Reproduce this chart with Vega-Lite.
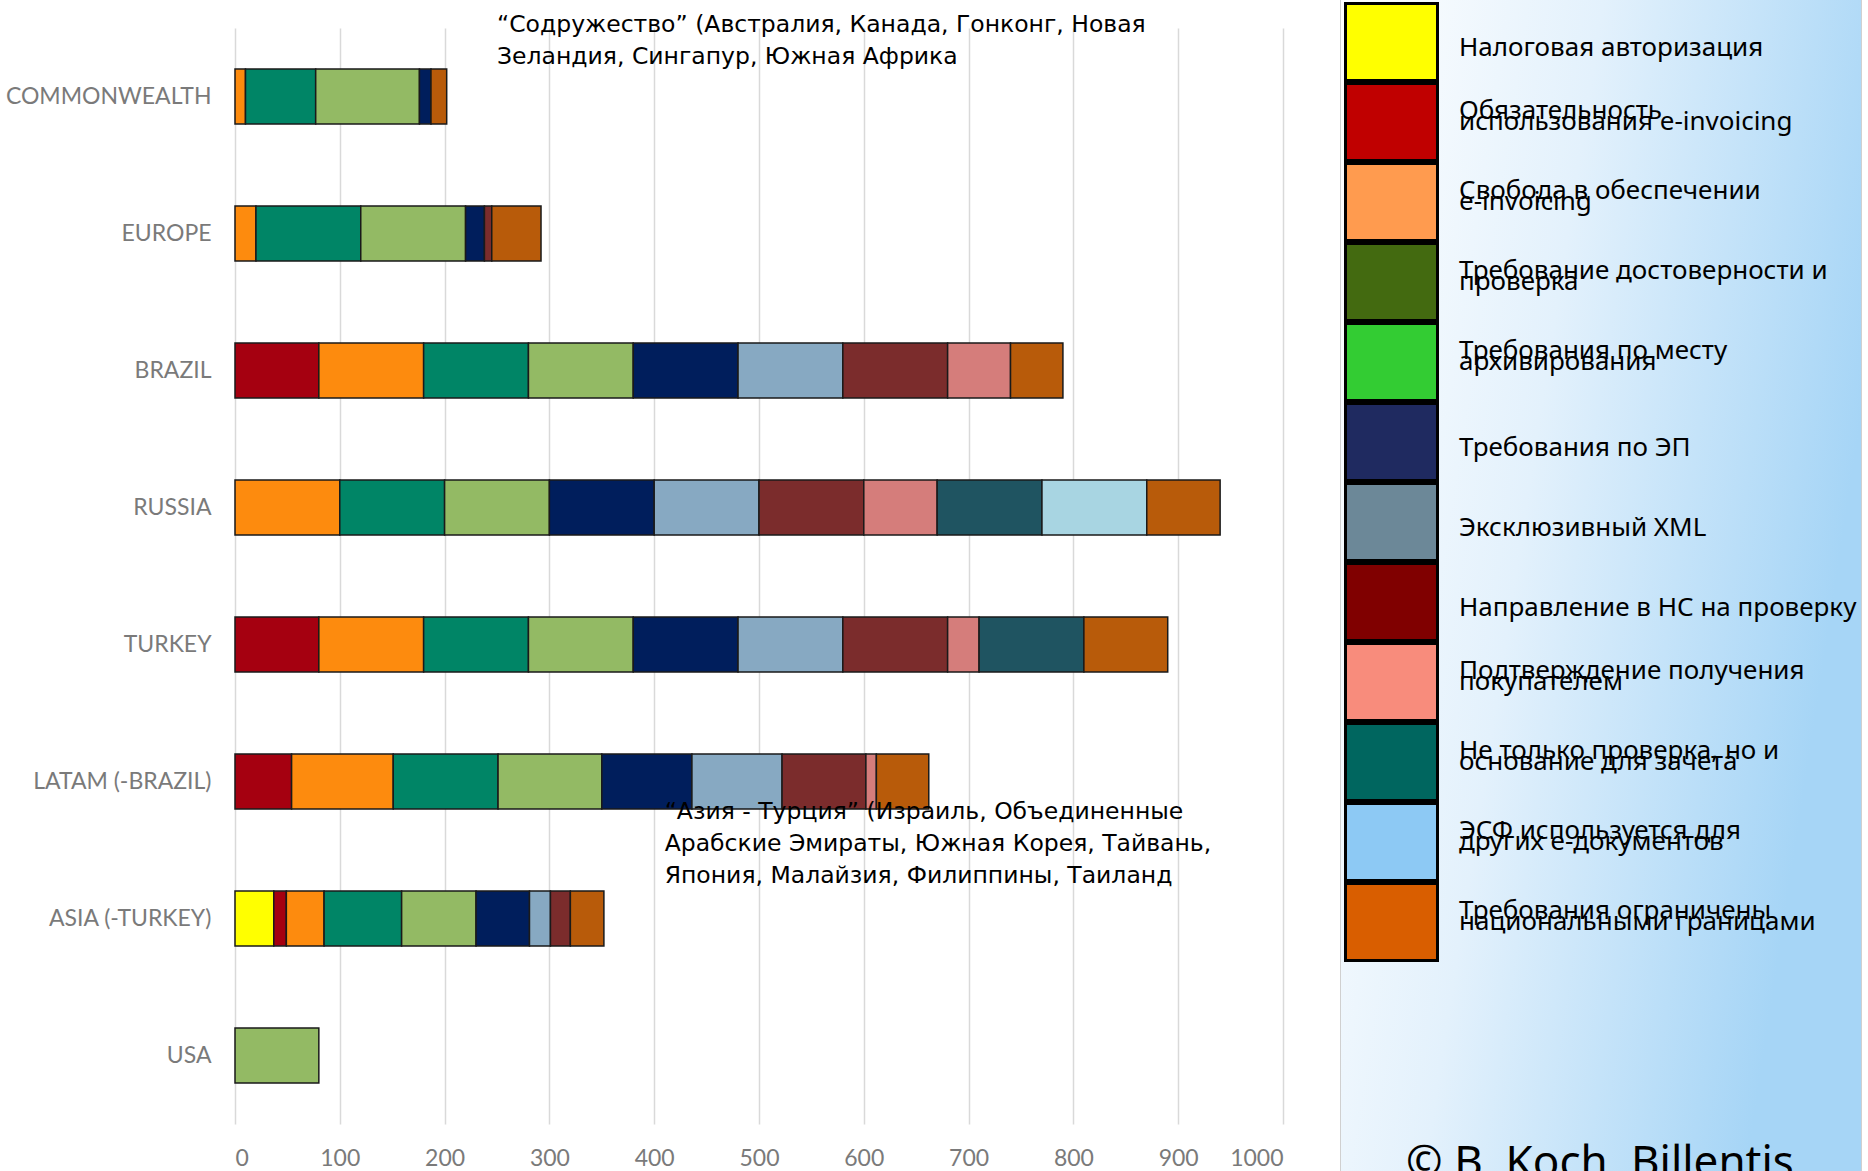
{
  "$schema": "https://vega.github.io/schema/vega-lite/v6.json",
  "width": 1048,
  "height": 1096,
  "autosize": {"type": "none"},
  "padding": {"left": 235, "top": 28, "right": 585, "bottom": 47},
  "background": "white",
  "config": {"view": {"stroke": null}},
  "datasets": {
    "cats": [
      {"k": 1, "c": "Налоговая авторизация"},
      {"k": 2, "c": "Обязательность|использования e-invoicing"},
      {"k": 3, "c": "Свобода в обеспечении|e-invoicing"},
      {"k": 4, "c": "Требование достоверности и|проверка"},
      {"k": 5, "c": "Требования по месту|архивирования"},
      {"k": 6, "c": "Требования по ЭП"},
      {"k": 7, "c": "Эксклюзивный XML"},
      {"k": 8, "c": "Направление в НС на проверку"},
      {"k": 9, "c": "Подтверждение получения|покупателем"},
      {"k": 10, "c": "Не только проверка, но и|основание для зачета"},
      {"k": 11, "c": "ЭСФ используется для|других е-документов"},
      {"k": 12, "c": "Требования ограничены|национальными границами"}
    ],
    "bars": [
      {"r": "COMMONWEALTH", "k": 3, "v": 10},
      {"r": "COMMONWEALTH", "k": 4, "v": 67},
      {"r": "COMMONWEALTH", "k": 5, "v": 99},
      {"r": "COMMONWEALTH", "k": 6, "v": 11},
      {"r": "COMMONWEALTH", "k": 12, "v": 15},
      {"r": "EUROPE", "k": 3, "v": 20},
      {"r": "EUROPE", "k": 4, "v": 100},
      {"r": "EUROPE", "k": 5, "v": 100},
      {"r": "EUROPE", "k": 6, "v": 18},
      {"r": "EUROPE", "k": 8, "v": 7},
      {"r": "EUROPE", "k": 12, "v": 47},
      {"r": "BRAZIL", "k": 2, "v": 80},
      {"r": "BRAZIL", "k": 3, "v": 100},
      {"r": "BRAZIL", "k": 4, "v": 100},
      {"r": "BRAZIL", "k": 5, "v": 100},
      {"r": "BRAZIL", "k": 6, "v": 100},
      {"r": "BRAZIL", "k": 7, "v": 100},
      {"r": "BRAZIL", "k": 8, "v": 100},
      {"r": "BRAZIL", "k": 9, "v": 60},
      {"r": "BRAZIL", "k": 12, "v": 50},
      {"r": "RUSSIA", "k": 3, "v": 100},
      {"r": "RUSSIA", "k": 4, "v": 100},
      {"r": "RUSSIA", "k": 5, "v": 100},
      {"r": "RUSSIA", "k": 6, "v": 100},
      {"r": "RUSSIA", "k": 7, "v": 100},
      {"r": "RUSSIA", "k": 8, "v": 100},
      {"r": "RUSSIA", "k": 9, "v": 70},
      {"r": "RUSSIA", "k": 10, "v": 100},
      {"r": "RUSSIA", "k": 11, "v": 100},
      {"r": "RUSSIA", "k": 12, "v": 70},
      {"r": "TURKEY", "k": 2, "v": 80},
      {"r": "TURKEY", "k": 3, "v": 100},
      {"r": "TURKEY", "k": 4, "v": 100},
      {"r": "TURKEY", "k": 5, "v": 100},
      {"r": "TURKEY", "k": 6, "v": 100},
      {"r": "TURKEY", "k": 7, "v": 100},
      {"r": "TURKEY", "k": 8, "v": 100},
      {"r": "TURKEY", "k": 9, "v": 30},
      {"r": "TURKEY", "k": 10, "v": 100},
      {"r": "TURKEY", "k": 12, "v": 80},
      {"r": "LATAM (-BRAZIL)", "k": 2, "v": 54},
      {"r": "LATAM (-BRAZIL)", "k": 3, "v": 97},
      {"r": "LATAM (-BRAZIL)", "k": 4, "v": 100},
      {"r": "LATAM (-BRAZIL)", "k": 5, "v": 99},
      {"r": "LATAM (-BRAZIL)", "k": 6, "v": 86},
      {"r": "LATAM (-BRAZIL)", "k": 7, "v": 86},
      {"r": "LATAM (-BRAZIL)", "k": 8, "v": 80},
      {"r": "LATAM (-BRAZIL)", "k": 9, "v": 10},
      {"r": "LATAM (-BRAZIL)", "k": 12, "v": 50},
      {"r": "ASIA (-TURKEY)", "k": 1, "v": 37},
      {"r": "ASIA (-TURKEY)", "k": 2, "v": 12},
      {"r": "ASIA (-TURKEY)", "k": 3, "v": 36},
      {"r": "ASIA (-TURKEY)", "k": 4, "v": 74},
      {"r": "ASIA (-TURKEY)", "k": 5, "v": 71},
      {"r": "ASIA (-TURKEY)", "k": 6, "v": 51},
      {"r": "ASIA (-TURKEY)", "k": 7, "v": 20},
      {"r": "ASIA (-TURKEY)", "k": 8, "v": 19},
      {"r": "ASIA (-TURKEY)", "k": 12, "v": 32},
      {"r": "USA", "k": 5, "v": 80}
    ]
  },
  "data": {"name": "bars"},
  "transform": [
    {"lookup": "k", "from": {"data": {"name": "cats"}, "key": "k", "fields": ["c"]}}
  ],
  "layer": [
    {
      "mark": {"type": "bar", "stroke": "#1a1a1a", "strokeWidth": 1.5},
      "encoding": {
        "y": {
          "field": "r", "type": "nominal",
          "sort": ["COMMONWEALTH", "EUROPE", "BRAZIL", "RUSSIA", "TURKEY", "LATAM (-BRAZIL)", "ASIA (-TURKEY)", "USA"],
          "scale": {"paddingInner": 0.6, "paddingOuter": 0.3},
          "axis": {"title": null, "domain": false, "ticks": false, "grid": false, "labelFont": "Lato", "labelFontSize": 23, "labelColor": "#7A7A7A", "labelPadding": 24, "labelLimit": 400}
        },
        "x": {
          "field": "v", "type": "quantitative", "stack": "zero",
          "scale": {"domain": [0, 1000], "nice": false},
          "axis": {"title": null, "values": [0, 100, 200, 300, 400, 500, 600, 700, 800, 900, 1000], "format": "d", "domain": false, "ticks": false, "grid": true, "gridColor": "#D9D9D9", "gridWidth": 1.5, "labelFont": "Lato", "labelFontSize": 23, "labelColor": "#7A7A7A", "labelPadding": 23}
        },
        "order": {"field": "k", "type": "quantitative"},
        "color": {
          "field": "k", "type": "ordinal", "legend": null,
          "scale": {
            "range": ["#FFFF00", "#A50010", "#FD8B0E", "#008566", "#93BA64", "#001E5C", "#87A9C2", "#7B2C2C", "#D57D7B", "#1F5461", "#A8D5E2", "#B85B0A"]
          }
        }
      }
    },
    {
      "mark": {"type": "text", "text": ""},
      "encoding": {
        "fill": {
          "field": "c", "type": "nominal",
          "scale": {
            "domain": ["Налоговая авторизация", "Обязательность|использования e-invoicing", "Свобода в обеспечении|e-invoicing", "Требование достоверности и|проверка", "Требования по месту|архивирования", "Требования по ЭП", "Эксклюзивный XML", "Направление в НС на проверку", "Подтверждение получения|покупателем", "Не только проверка, но и|основание для зачета", "ЭСФ используется для|других е-документов", "Требования ограничены|национальными границами"],
            "range": ["#FFFF00", "#C00000", "#FF9B4F", "#436A10", "#33CC33", "#1F2A60", "#6C8898", "#800000", "#F88C7C", "#00665F", "#8DC9F4", "#D95E00"]
          },
          "legend": {
            "orient": "none",
            "legendX": 1105,
            "legendY": -30,
            "zindex": 0,
            "padding": 4,
            "direction": "vertical",
            "symbolType": "M-1,-1H1.375V1H-1Z",
            "symbolSize": 6400,
            "symbolStrokeWidth": 0,
            "symbolOpacity": 1,
            "rowPadding": 0,
            "labelFont": "Noto Sans",
            "labelFontSize": 26,
            "labelColor": "#000000",
            "labelOffset": 35,
            "labelLimit": 700,
            "labelExpr": "split(datum.label, '|')[0]",
            "title": "© B. Koch, Billentis",
            "titleOrient": "bottom",
            "titleAnchor": "middle",
            "titleFont": "Noto Sans",
            "titleFontSize": 44,
            "titleFontWeight": "normal",
            "titleColor": "#000000",
            "titlePadding": 180,
            "titleLimit": 1000,
            "strokeColor": "#D0D0D0",
            "encode": {
              "legend": {"update": {"fill": {"value": {"gradient": "linear", "x1": 0, "y1": 0, "x2": 1, "y2": 0.35, "stops": [{"offset": 0, "color": "#FFFFFF"}, {"offset": 0.45, "color": "#E3F1FC"}, {"offset": 1, "color": "#A6D5F6"}]}}}},
              "labels": {"update": {"dy": {"signal": "indexof(datum.label, '|') >= 0 ? -11.5 : 6"}}}
            }
          }
        }
      }
    },
    {
      "mark": {"type": "text", "text": ""},
      "encoding": {
        "stroke": {
          "field": "c", "type": "nominal",
          "sort": ["Налоговая авторизация", "Обязательность|использования e-invoicing", "Свобода в обеспечении|e-invoicing", "Требование достоверности и|проверка", "Требования по месту|архивирования", "Требования по ЭП", "Эксклюзивный XML", "Направление в НС на проверку", "Подтверждение получения|покупателем", "Не только проверка, но и|основание для зачета", "ЭСФ используется для|других е-документов", "Требования ограничены|национальными границами"],
          "scale": {"range": ["#1F2A5E"]},
          "legend": {
            "orient": "none",
            "legendX": 1105,
            "legendY": -30,
            "zindex": 1,
            "padding": 4,
            "direction": "vertical",
            "symbolType": "M-1,-1H1.375V1H-1ZM-0.925,-0.925V0.925H1.3V-0.925Z",
            "symbolSize": 6400,
            "symbolStrokeWidth": 0,
            "symbolFillColor": "#1F2A5E",
            "symbolOpacity": 1,
            "rowPadding": 0,
            "labelFont": "Noto Sans",
            "labelFontSize": 26,
            "labelColor": "#000000",
            "labelOffset": 35,
            "labelLimit": 700,
            "labelExpr": "split(datum.label, '|')[1] || ''",
            "title": null,
            "encode": {
              "symbols": {"update": {"fill": {"value": "#1F2A5E"}, "strokeWidth": {"value": 0}, "opacity": {"value": 1}}},
              "labels": {"update": {"dy": {"value": 23}}}
            }
          }
        }
      }
    },
    {
      "data": {"values": [{}]},
      "mark": {"type": "text", "align": "left", "baseline": "middle", "font": "DejaVu Sans", "fontSize": 23.5, "lineHeight": 32, "color": "#000000", "dy": -71.5,
        "text": ["“Содружество” (Австралия, Канада, Гонконг, Новая", "Зеландия, Сингапур, Южная Африка"]},
      "encoding": {"x": {"datum": 250}, "y": {"datum": "COMMONWEALTH"}}
    },
    {
      "data": {"values": [{}]},
      "mark": {"type": "text", "align": "left", "baseline": "middle", "font": "DejaVu Sans", "fontSize": 23.5, "lineHeight": 32, "color": "#000000", "dy": 30.5,
        "text": [" “Азия - Турция” (Израиль, Объединенные", "Арабские Эмираты, Южная Корея, Тайвань,", "Япония, Малайзия, Филиппины, Таиланд"]},
      "encoding": {"x": {"datum": 410}, "y": {"datum": "LATAM (-BRAZIL)"}}
    }
  ]
}
